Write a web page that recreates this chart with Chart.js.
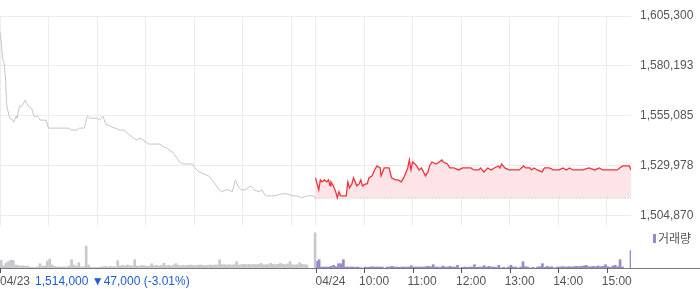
<!DOCTYPE html>
<html>
<head>
<meta charset="utf-8">
<script src="https://cdn.jsdelivr.net/npm/chart.js@4/dist/chart.umd.min.js"></script>
<style>
  body { margin: 0; background: #fff; }
  #wrap { position: relative; width: 700px; height: 289px; }
  #price { position: absolute; left: 0; top: 0; }
  #vol { position: absolute; left: 0; top: 226px; }
</style>
</head>
<body>
<div id="wrap">
  <canvas id="price" width="700" height="226"></canvas>
  <canvas id="vol" width="700" height="63"></canvas>
</div>
<script>
// --- data ---
const dayLabels = ['04/23', '04/24'];
const hourLabels = ['10:00', '11:00', '12:00', '13:00', '14:00', '15:00'];
const priceTicks = [1504870, 1529978, 1555085, 1580193, 1605300];
const prevClose = 1514000;
const changeText = '1,514,000 \u25BC47,000 (-3.01%)';

const day1Times = ['09:00','09:02','09:03','09:05','09:07','09:08','09:09','09:12','09:16','09:17',
  '09:20','09:21','09:24','09:27','09:31','09:35','09:39','09:42','09:46','09:50','09:54','09:57',
  '10:00','10:02','10:08','10:16','10:25','10:28','10:35','10:38','10:44','10:48','10:51','10:56',
  '11:00','11:03','11:07','11:11','11:16','11:22','11:29','11:33','11:39','11:45','11:49','11:53','11:57',
  '12:04','12:10','12:18','12:20','12:26','12:33','12:37','12:42','12:47','12:53','12:58',
  '13:01','13:06','13:12','13:18','13:22','13:26','13:31','13:34','13:39','13:43','13:47','13:51','13:54','13:58',
  '14:03','14:10','14:14','14:20','14:24','14:28','14:34','14:40','14:49','14:55',
  '15:01','15:07','15:13','15:20','15:28','15:30'];
const day1Prices = [1597000,1591000,1584000,1582000,1573000,1562000,1559000,1554000,1553000,1552000,
  1555000,1554000,1560000,1560000,1563000,1560000,1559000,1555000,1555000,1553000,1553000,1553000,
  1549000,1549000,1549000,1549000,1549000,1548000,1548000,1549000,1549000,1555000,1554000,1554000,
  1554000,1553000,1555000,1551000,1550000,1549000,1548000,1548000,1546000,1544000,1543000,1544000,1543000,
  1541000,1541000,1541000,1540000,1539000,1537000,1535000,1532000,1531000,1531000,1531000,
  1529000,1527000,1526000,1525000,1523000,1521000,1518000,1517000,1518000,1518000,1517000,1523000,1520000,1518000,
  1518000,1520000,1518000,1517000,1518000,1515000,1515000,1515000,1516000,1516000,
  1515000,1515000,1514000,1515000,1515000,1514000];

const day2Times = ['09:00','09:02','09:04','09:06','09:08','09:11','09:14','09:16','09:18','09:19',
  '09:22','09:25','09:27','09:29','09:31','09:35','09:38','09:40','09:42','09:45','09:47','09:51','09:54','09:56','09:58',
  '10:02','10:04','10:06','10:10','10:13','10:16','10:20','10:21','10:25','10:31','10:34','10:39','10:42','10:46','10:49','10:54','10:56','10:58',
  '11:00','11:03','11:05','11:08','11:11','11:16','11:19','11:21','11:24','11:29','11:33','11:36','11:38','11:43','11:46','11:51','11:57',
  '12:02','12:08','12:12','12:16','12:22','12:24','12:28','12:33','12:37','12:41','12:46','12:48','12:50','12:54','12:59',
  '13:04','13:12','13:17','13:20','13:25','13:27','13:30','13:34','13:40','13:43','13:49','13:54',
  '14:01','14:06','14:10','14:14','14:18','14:30','14:38','14:45','14:51','14:55',
  '15:13','15:16','15:20','15:28','15:30'];
const day2Prices = [1524000,1521000,1518000,1523000,1522000,1523000,1522000,1523000,1520000,1522000,
  1520000,1517000,1514000,1517000,1515000,1515000,1515000,1522000,1519000,1521000,1524000,1520000,1521000,1523000,1520000,
  1521000,1521000,1524000,1525000,1528000,1530000,1529000,1525000,1529000,1529000,1524000,1523000,1523000,1522000,1524000,1529000,1533000,1528000,
  1532000,1531000,1530000,1528000,1529000,1525000,1527000,1530000,1532000,1531000,1532000,1533000,1532000,1531000,1529000,1529000,1528000,
  1529000,1529000,1529000,1528000,1528000,1529000,1527000,1529000,1528000,1529000,1530000,1529000,1531000,1529000,1528000,
  1528000,1528000,1530000,1529000,1529000,1528000,1529000,1528000,1527000,1529000,1529000,1528000,
  1528000,1529000,1528000,1529000,1528000,1528000,1529000,1528000,1529000,1528000,
  1528000,1529000,1530000,1530000,1528000];

// volume per 3-minute bucket from 09:00 to 15:18, then the 15:30 closing auction
const volStep = 3;
const day1Volume = [770,200,500,650,800,750,300,250,200,230,170,200,70,80,60,130,430,170,200,700,
  900,300,170,100,130,100,120,90,200,830,300,200,530,100,130,2200,300,70,50,70,
  50,100,130,170,100,170,130,100,730,200,270,200,300,230,200,830,200,170,270,230,
  170,200,430,230,270,200,270,470,230,270,200,300,430,270,230,270,230,270,300,270,
  230,270,300,270,230,270,300,270,300,300,830,330,330,300,330,300,330,630,300,330,
  370,330,370,330,370,330,370,470,330,330,330,470,370,330,370,470,370,330,400,630,
  330,300,330,530,370,330,300];
const day1CloseVolume = 3530;
const day2Volume = [670,830,100,100,100,100,170,270,130,430,430,830,100,100,100,100,70,100,30,0,
  100,70,100,130,100,100,100,100,0,100,100,170,100,100,70,100,100,100,100,230,
  100,100,100,100,100,130,170,130,330,100,100,70,200,100,100,170,100,100,270,0,
  70,100,70,100,100,330,70,100,100,230,100,170,100,100,70,270,0,70,0,100,
  270,100,100,0,100,630,130,100,0,70,0,100,130,430,70,170,100,130,0,100,
  100,130,130,100,130,100,130,170,130,170,200,270,130,130,170,130,200,130,170,330,
  130,70,200,270,130,830,100];
const day2CloseVolume = 1730;

// --- helpers ---
const dayLen = 390;
const toMin = (t, day) => {
  const [h, m] = t.split(':').map(Number);
  return day * dayLen + (h - 9) * 60 + m;
};
const tickStep = priceTicks[1] - priceTicks[0];
const gridMin = [0, 60, 120, 180, 240, 300, 360, 390, 450, 510, 570, 630, 690, 750];
const hourMin = [450, 510, 570, 630, 690, 750];
const gridColor = '#ececec';

Chart.defaults.font.family = '"Liberation Sans", Arial, sans-serif';
Chart.defaults.font.size = 12;

const noPad = s => { s.paddingTop = 0; s.paddingBottom = 0; s.paddingLeft = 0; s.paddingRight = 0; };

const paneLine = {
  id: 'paneLine',
  afterDraw(c) {
    const ctx = c.ctx;
    ctx.save();
    ctx.strokeStyle = '#7a7a7a';
    ctx.lineWidth = 1;
    ctx.beginPath();
    ctx.moveTo(0, c.chartArea.bottom + 0.5);
    ctx.lineTo(c.width, c.chartArea.bottom + 0.5);
    ctx.stroke();
    ctx.restore();
  }
};

new Chart(document.getElementById('price'), {
  type: 'line',
  data: {
    datasets: [
      {
        data: day1Times.map((t, i) => ({ x: toMin(t, 0), y: day1Prices[i] })),
        borderColor: '#c5c5cb',
        borderWidth: 1,
        pointRadius: 0,
        fill: false
      },
      {
        data: day2Times.map((t, i) => ({ x: toMin(t, 1), y: day2Prices[i] })),
        borderColor: '#f2313b',
        borderWidth: 1.3,
        pointRadius: 0,
        fill: { target: { value: prevClose }, above: '#fde4e6', below: '#fde4e6' }
      },
      {
        data: [{ x: dayLen, y: prevClose }, { x: dayLen * 2, y: prevClose }],
        borderColor: '#555',
        borderWidth: 1,
        borderDash: [1, 2],
        pointRadius: 0,
        fill: false
      }
    ]
  },
  options: {
    responsive: false,
    animation: false,
    events: [],
    layout: { padding: { top: 16, left: 0, right: 0, bottom: 0 } },
    plugins: { legend: { display: false }, tooltip: { enabled: false } },
    scales: {
      x: {
        type: 'linear',
        min: 0,
        max: dayLen * 2,
        afterBuildTicks: s => { s.ticks = gridMin.map(v => ({ value: v })); },
        afterFit: s => { s.height = 0; noPad(s); },
        ticks: { display: false },
        grid: { color: gridColor, drawTicks: false },
        border: { display: false }
      },
      y: {
        position: 'right',
        min: priceTicks[0] - tickStep * 0.2,
        max: priceTicks[priceTicks.length - 1],
        afterBuildTicks: s => { s.ticks = priceTicks.map(v => ({ value: v })); },
        afterFit: s => { s.width = 69; noPad(s); },
        ticks: {
          color: '#555',
          padding: 9,
          callback: v => Math.round(v).toLocaleString('en-US')
        },
        grid: { color: gridColor, drawTicks: false },
        border: { display: false }
      }
    }
  },
  plugins: [paneLine]
});

const volLabels = {
  id: 'volLabels',
  afterDraw(c) {
    const ctx = c.ctx;
    const xs = c.scales.x;
    const bottom = c.chartArea.bottom;
    ctx.save();
    // tick marks
    ctx.strokeStyle = '#555';
    ctx.lineWidth = 1;
    [0, dayLen].concat(hourMin).forEach(m => {
      const px = Math.round(xs.getPixelForValue(m)) + 0.5;
      ctx.beginPath();
      ctx.moveTo(px, bottom);
      ctx.lineTo(px, bottom + 5);
      ctx.stroke();
    });
    // labels
    ctx.font = '12px "Liberation Sans", Arial, sans-serif';
    ctx.textBaseline = 'middle';
    ctx.textAlign = 'left';
    const ly = bottom + 14;
    ctx.fillStyle = '#555';
    ctx.fillText(dayLabels[0], xs.getPixelForValue(0), ly);
    const w = ctx.measureText(dayLabels[0]).width;
    ctx.fillText(dayLabels[1], xs.getPixelForValue(dayLen), ly);
    hourMin.forEach((m, i) => ctx.fillText(hourLabels[i], xs.getPixelForValue(m) - 5, ly));
    ctx.fillStyle = '#1a5fd1';
    ctx.fillText(changeText, xs.getPixelForValue(0) + w + 5, ly);
    // legend
    ctx.fillStyle = '#9a88cc';
    ctx.fillRect(653, 8, 3, 9);
    ctx.fillStyle = '#555';
    ctx.font = '12px "Noto Sans CJK KR", sans-serif';
    ctx.fillText('거래량', 658, 12);
    ctx.restore();
  }
};

const bucketData = (vols, day) => vols.map((v, i) => ({ x: day * dayLen + i * volStep + 1.5, y: v }));

new Chart(document.getElementById('vol'), {
  type: 'bar',
  data: {
    datasets: [
      {
        data: bucketData(day1Volume, 0).concat([{ x: dayLen - 0.5, y: day1CloseVolume }]),
        backgroundColor: '#c8c8cd',
        barThickness: 2,
        grouped: false
      },
      {
        data: bucketData(day2Volume, 1).concat([{ x: dayLen * 2, y: day2CloseVolume }]),
        backgroundColor: '#9a88cc',
        barThickness: 2,
        grouped: false
      }
    ]
  },
  options: {
    responsive: false,
    animation: false,
    events: [],
    layout: { padding: { top: 0, left: 0, right: 69, bottom: 21 } },
    plugins: { legend: { display: false }, tooltip: { enabled: false } },
    scales: {
      x: { type: 'linear', min: 0, max: dayLen * 2, offset: false, display: false },
      y: { min: 0, max: 4200, display: false }
    }
  },
  plugins: [paneLine, volLabels]
});
</script>
</body>
</html>
